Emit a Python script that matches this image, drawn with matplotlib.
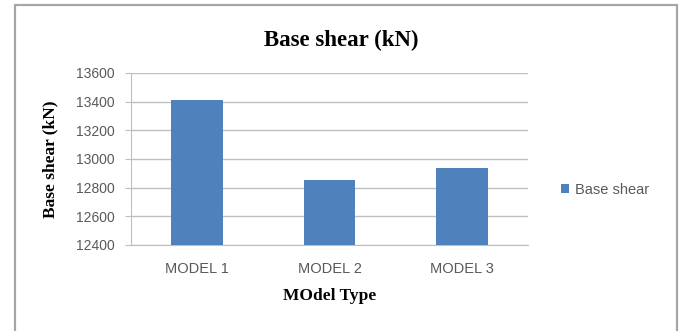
import matplotlib
matplotlib.use("Agg")
import matplotlib.pyplot as plt
from matplotlib.patches import Rectangle

# Base shear per model
models = ["MODEL 1", "MODEL 2", "MODEL 3"]
base_shear = [13410, 12856, 12935]
yticks = [12400, 12600, 12800, 13000, 13200, 13400, 13600]

bar_color = "#4F81BD"
grid_color = "#BFBFBF"
text_gray = "#595959"
serif = ["Liberation Serif", "DejaVu Serif"]
sans = ["Liberation Sans", "DejaVu Sans"]

fig = plt.figure(figsize=(6.82, 3.31), dpi=100)
fig.patch.set_facecolor("white")

# chart border (open at the bottom edge)
fig.patches.append(Rectangle((15 / 682, -0.05), 662 / 682, 1.05 - 5 / 331,
                             transform=fig.transFigure, fill=False,
                             edgecolor="#A6A6A6", linewidth=1.6))

ax = fig.add_axes([131 / 682, 1 - 245 / 331, 397 / 682, 172 / 331])
x = range(len(models))
bars = ax.bar(x, base_shear, width=0.39, color=bar_color, zorder=3,
              label="Base shear")
ax.set_xlim(-0.5, 2.5)
ax.set_ylim(12400, 13600)
ax.set_yticks(yticks)
ax.set_xticks(list(x))
ax.set_xticklabels(models, family=sans, fontsize=10.5, color=text_gray)
ax.set_yticklabels([str(v) for v in yticks], family=sans, fontsize=10,
                   color=text_gray)
ax.yaxis.grid(True, color=grid_color, linewidth=1.0, zorder=0)
ax.tick_params(axis="y", length=4, color=grid_color, pad=8)
ax.tick_params(axis="x", length=0, pad=12)
for side in ["top", "right"]:
    ax.spines[side].set_visible(False)
ax.spines["left"].set_color(grid_color)
ax.spines["bottom"].set_color(grid_color)

ax.set_ylabel("Base shear (kN)", family=serif, fontsize=12.5,
              fontweight="bold")
ax.yaxis.set_label_coords(-(131 - 50) / 397, 0.5)
ax.set_xlabel("MOdel Type", family=serif, fontsize=12.5, fontweight="bold")
ax.xaxis.set_label_coords(0.5, -(296 - 245) / 172)
ax.xaxis.label.set_va("center")
ax.yaxis.label.set_va("center")
fig.text(341 / 682, 1 - 40 / 331, "Base shear (kN)", family=serif,
         fontsize=16.5, fontweight="bold", ha="center", va="center")

leg = fig.legend(handles=[bars], labels=["Base shear"], loc="center left",
                 bbox_to_anchor=(548 / 682, 1 - 190 / 331), frameon=False,
                 handlelength=0.55, handleheight=0.55, handletextpad=0.4,
                 prop={"family": sans, "size": 10.5})
for t in leg.get_texts():
    t.set_color(text_gray)

fig.savefig("out.png", dpi=100)
